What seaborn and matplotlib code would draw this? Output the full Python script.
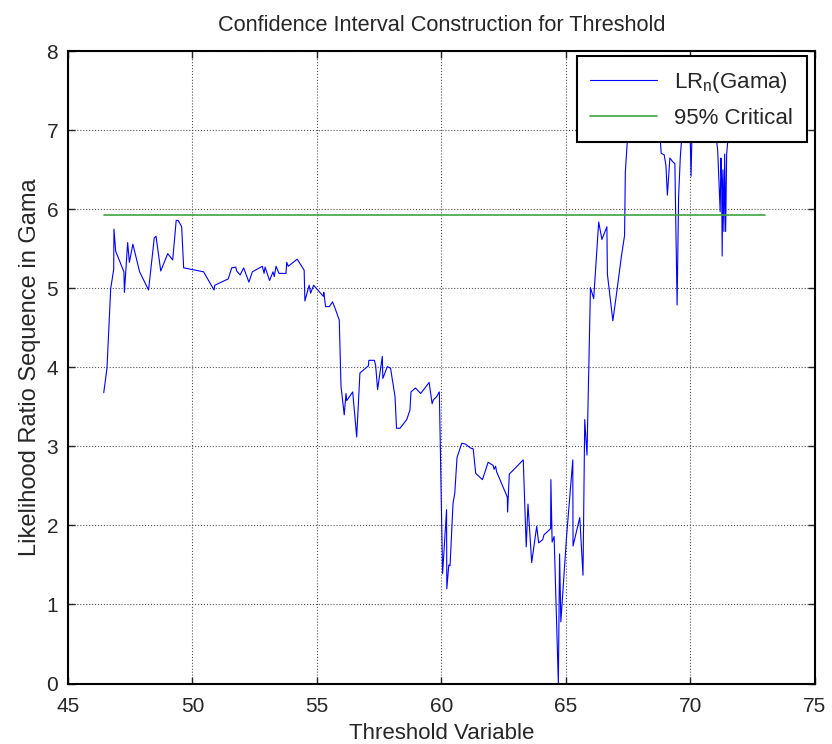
import numpy as np
import pandas as pd
import seaborn as sns
import matplotlib
matplotlib.use("Agg")
import matplotlib.pyplot as plt

# threshold values and LR statistic
threshold = [46.44, 46.57, 46.72, 46.84, 46.85, 46.92, 47.25, 47.27, 47.40, 47.47,
             47.61, 47.88, 48.24, 48.47, 48.54, 48.73, 49.01, 49.21, 49.35, 49.43,
             49.57, 49.65, 50.45, 50.87, 50.90, 51.44, 51.58, 51.74, 51.78, 51.92,
             52.06, 52.27, 52.41, 52.81, 52.88, 52.92, 53.10, 53.24, 53.29, 53.36,
             53.48, 53.76, 53.79, 53.85, 54.21, 54.49, 54.52, 54.69, 54.75, 54.87,
             55.26, 55.28, 55.35, 55.50, 55.63, 55.73, 55.90, 55.97, 56.10, 56.17,
             56.20, 56.44, 56.60, 56.73, 57.07, 57.09, 57.31, 57.36, 57.44, 57.63,
             57.65, 57.83, 57.96, 58.14, 58.20, 58.34, 58.61, 58.74, 58.78, 58.96,
             59.17, 59.51, 59.63, 59.68, 59.81, 59.92, 60.05, 60.21, 60.22, 60.30,
             60.35, 60.47, 60.54, 60.63, 60.82, 60.97, 61.17, 61.28, 61.38, 61.65,
             61.88, 62.08, 62.12, 62.18, 62.22, 62.65, 62.66, 62.73, 63.29, 63.41,
             63.48, 63.63, 63.83, 63.91, 64.07, 64.12, 64.39, 64.40, 64.45, 64.53,
             64.70, 64.75, 64.80, 65.03, 65.28, 65.29, 65.56, 65.69, 65.76, 65.85,
             65.99, 66.12, 66.32, 66.45, 66.65, 66.67, 66.89, 67.07, 67.23, 67.36,
             67.39, 67.49, 67.62, 67.80, 68.05, 68.30, 68.55, 68.75, 68.83, 68.95,
             69.02, 69.08, 69.18, 69.30, 69.38, 69.47, 69.53, 69.60, 69.75, 69.90,
             69.99, 70.03, 70.07, 70.30, 70.60, 70.90, 71.10, 71.20, 71.23, 71.26,
             71.28, 71.31, 71.35, 71.38, 71.42, 71.46, 71.60, 71.90, 72.20, 72.60,
             73.00]
lr_stat = [3.68, 3.99, 5.00, 5.24, 5.75, 5.47, 5.21, 4.95, 5.58, 5.33,
           5.56, 5.21, 4.98, 5.64, 5.66, 5.22, 5.44, 5.36, 5.86, 5.86,
           5.78, 5.26, 5.21, 4.98, 5.04, 5.12, 5.26, 5.27, 5.22, 5.17,
           5.26, 5.08, 5.21, 5.28, 5.19, 5.27, 5.10, 5.21, 5.15, 5.28,
           5.19, 5.19, 5.33, 5.28, 5.37, 5.23, 4.84, 5.04, 4.94, 5.04,
           4.90, 4.95, 4.77, 4.77, 4.83, 4.75, 4.60, 3.76, 3.40, 3.67,
           3.58, 3.69, 3.12, 3.93, 4.02, 4.09, 4.09, 4.03, 3.72, 4.14,
           3.86, 4.01, 3.99, 3.63, 3.23, 3.23, 3.34, 3.46, 3.69, 3.74,
           3.67, 3.81, 3.54, 3.59, 3.63, 3.69, 1.39, 2.20, 1.20, 1.50,
           1.49, 2.28, 2.41, 2.86, 3.04, 3.03, 2.98, 2.97, 2.66, 2.58,
           2.80, 2.76, 2.71, 2.75, 2.68, 2.36, 2.17, 2.65, 2.83, 1.73,
           2.27, 1.53, 1.99, 1.78, 1.82, 1.88, 1.96, 2.58, 1.79, 1.86,
           0.00, 1.64, 0.78, 1.86, 2.83, 1.74, 2.10, 1.37, 3.34, 2.89,
           5.01, 4.87, 5.84, 5.62, 5.78, 5.18, 4.59, 5.01, 5.40, 5.67,
           6.47, 6.96, 7.45, 7.70, 7.55, 7.75, 7.40, 7.10, 6.71, 6.69,
           6.56, 6.18, 6.65, 6.60, 6.58, 4.79, 6.16, 6.67, 7.30, 7.10,
           7.00, 6.42, 7.00, 7.50, 7.65, 7.30, 6.75, 5.97, 6.65, 6.38,
           5.41, 6.50, 5.72, 6.70, 5.72, 6.70, 7.20, 7.50, 7.30, 7.60,
           7.40]
critical_value = 5.93
critical_x = [46.45, 73.0]

df = pd.DataFrame({"threshold": threshold, "lr": lr_stat})
crit = pd.DataFrame({"threshold": critical_x, "lr": [critical_value] * 2})

sns.set_style("ticks")
plt.rcParams['font.family'] = ['Liberation Sans', 'DejaVu Sans']
plt.rcParams['mathtext.fontset'] = 'custom'
plt.rcParams['mathtext.rm'] = 'Liberation Sans'
plt.rcParams['mathtext.it'] = 'Liberation Sans'

fig = plt.figure(figsize=(8.32, 7.44), dpi=100)
ax = fig.add_axes([0.0816, 0.0813, 0.8977, 0.8497])

sns.lineplot(data=df, x="threshold", y="lr", ax=ax, color="#0000ff", lw=0.8,
             estimator=None, sort=False, label=r"LR$_\mathrm{n}$(Gama)")
sns.lineplot(data=crit, x="threshold", y="lr", ax=ax, color="#3fa33f", lw=1.2,
             estimator=None, sort=False, label="95% Critical")

ax.set_xlim(45, 75)
ax.set_ylim(0, 8)
ax.set_xticks(np.arange(45, 76, 5))
ax.set_yticks(np.arange(0, 9, 1))
ax.grid(True, linestyle=":", color="#555555", linewidth=0.8)
ax.tick_params(direction="in", top=True, right=True, labelsize=15, length=5, width=1)
ax.tick_params(axis="x", pad=10)
ax.tick_params(axis="y", pad=7)
for s in ax.spines.values():
    s.set_linewidth(1.5)
    s.set_color("black")

ax.set_title("Confidence Interval Construction for Threshold", fontsize=15.7, pad=15)
ax.set_xlabel("Threshold Variable", fontsize=16, labelpad=5)
ax.set_ylabel("Likelihood Ratio Sequence in Gama", fontsize=17, labelpad=4)

leg = ax.legend(loc="upper right", bbox_to_anchor=(0.989, 0.992), borderaxespad=0,
                fontsize=16, fancybox=False, framealpha=1, edgecolor="black",
                handlelength=3.0, borderpad=0.6, labelspacing=0.6)
leg.get_frame().set_linewidth(1.5)

fig.savefig("out.png", dpi=100)
